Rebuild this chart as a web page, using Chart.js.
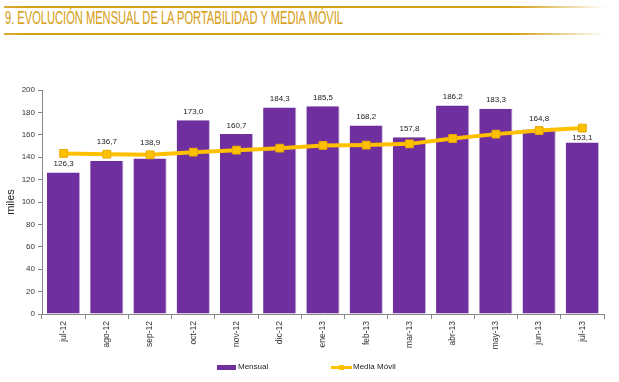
<!DOCTYPE html>
<html>
<head>
<meta charset="utf-8">
<script src="https://cdn.jsdelivr.net/npm/chart.js@4/dist/chart.umd.min.js"></script>
<style>
  html, body { margin: 0; padding: 0; background: #fff; }
  #wrap { position: relative; width: 619px; height: 382px; overflow: hidden; background: #fff; }
  #c { position: absolute; left: 0; top: 0; }
  .gline { position: absolute; left: 4px; width: 602px; height: 2px;
    background: linear-gradient(to right, rgba(212,160,23,0.85) 0%, #D4A017 3%, #D4A017 85%, rgba(212,160,23,0) 100%); }
  #title { position: absolute; left: 5px; top: 8px; font-family: "Liberation Sans Narrow", "Liberation Sans", sans-serif;
    font-size: 18px; line-height: 20px; color: #D8A11A; white-space: nowrap; transform-origin: 0 0; letter-spacing: 0px;
    -webkit-text-stroke: 0.1px #D8A11A; }
  .leg { position: absolute; top: 362px; font-family: "Liberation Sans", Arial, sans-serif; font-size: 8px; color: #222; line-height: 10px; }
</style>
</head>
<body>
<div id="wrap">
  <div class="gline" style="top:6px"></div>
  <div id="title">9. EVOLUCIÓN MENSUAL DE LA PORTABILIDAD Y MEDIA MÓVIL</div>
  <div class="gline" style="top:33px"></div>
  <canvas id="c" width="619" height="382"></canvas>
  <div class="leg" id="leg1" style="left:217px;">
    <span style="position:absolute;left:0;top:3px;width:19px;height:5px;background:#6F2F9F;"></span>
    <span style="position:absolute;left:21px;top:0;">Mensual</span>
  </div>
  <div class="leg" id="leg2" style="left:331px;">
    <span style="position:absolute;left:0;top:4px;width:21px;height:3px;background:#FFC000;"></span>
    <span style="position:absolute;left:8px;top:3px;width:5px;height:5px;background:#FFC000;"></span>
    <span style="position:absolute;left:22px;top:0;white-space:nowrap;">Media Móvil</span>
  </div>
</div>
<script>
const categories = ['jul-12','ago-12','sep-12','oct-12','nov-12','dic-12','ene-13','feb-13','mar-13','abr-13','may-13','jun-13','jul-13'];
const mensual = [126.3, 136.7, 138.9, 173.0, 160.7, 184.3, 185.5, 168.2, 157.8, 186.2, 183.3, 164.8, 153.1];
const mediaMovil = [143.4, 142.7, 142.1, 144.5, 146.3, 148.1, 150.5, 150.8, 151.9, 156.7, 160.6, 163.8, 166.0];
const yMin = 0, yMax = 200, yStep = 20;
const yTitle = 'miles';
const seriesNames = ['Mensual', 'Media Móvil'];

// fit title width
(function(){
  const t = document.getElementById('title');
  const w = t.getBoundingClientRect().width;
  t.style.transform = 'scaleX(' + (338 / w) + ')';
})();

const FONT = '"Liberation Sans", Arial, sans-serif';

const barLabels = {
  id: 'barLabels',
  afterDatasetDraw(chart, args) {
    if (args.index !== 0) return;
    const ctx = chart.ctx;
    const meta = chart.getDatasetMeta(0);
    const lineMeta = chart.getDatasetMeta(1);
    ctx.save();
    ctx.font = '8px ' + FONT;
    ctx.fillStyle = '#222';
    ctx.textAlign = 'center';
    ctx.textBaseline = 'middle';
    meta.data.forEach((bar, i) => {
      const v = chart.data.datasets[0].data[i];
      let cy = bar.y - 8.5;
      const p = lineMeta.data[i];
      if (p) {
        const half = 4, mk = 6;
        if (cy + half > p.y - mk && cy - half < p.y + mk) {
          cy = (cy < p.y) ? p.y - mk - half - 2 : p.y + mk + half;
        }
      }
      ctx.fillText(v.toFixed(1).replace('.', ','), bar.x, cy);
    });
    ctx.restore();
  }
};

new Chart(document.getElementById('c'), {
  data: {
    labels: categories,
    datasets: [
      {
        type: 'bar', label: seriesNames[0], data: mensual, order: 1,
        backgroundColor: '#6F2F9F', borderColor: '#C9BBD8', borderWidth: {right: 1, top: 0, left: 0, bottom: 0},
        categoryPercentage: 1.0, barPercentage: 0.77
      },
      {
        type: 'line', label: seriesNames[1], data: mediaMovil, order: 0,
        borderColor: '#FFC000', borderWidth: 4, tension: 0,
        pointStyle: 'rect', pointRadius: 5.5, pointBackgroundColor: '#FFC000',
        pointBorderColor: '#E8AA00', pointBorderWidth: 1
      }
    ]
  },
  options: {
    responsive: false, devicePixelRatio: 1, animation: false,
    layout: { padding: { top: 90, right: 15, left: 0, bottom: 0 } },
    plugins: { legend: { display: false }, tooltip: { enabled: false } },
    scales: {
      x: {
        offset: true,
        grid: { display: true, drawOnChartArea: false, offset: true, tickLength: 5, color: '#888' },
        border: { display: true, color: '#888', width: 1 },
        ticks: { minRotation: 90, maxRotation: 90, padding: 2, font: { size: 8.5, family: FONT }, color: '#333' },
        afterFit(s) { s.height = 68; }
      },
      y: {
        min: yMin, max: yMax,
        grid: { display: true, drawOnChartArea: false, tickLength: 4, color: '#888' },
        border: { display: true, color: '#888', width: 1 },
        ticks: { stepSize: yStep, padding: 3, font: { size: 8, family: FONT }, color: '#333' },
        title: { display: true, text: yTitle, font: { size: 11, family: FONT }, color: '#222', padding: { top: 4, bottom: 0 } },
        afterFit(s) { s.width = 42; }
      }
    }
  },
  plugins: [barLabels]
});
</script>
</body>
</html>
